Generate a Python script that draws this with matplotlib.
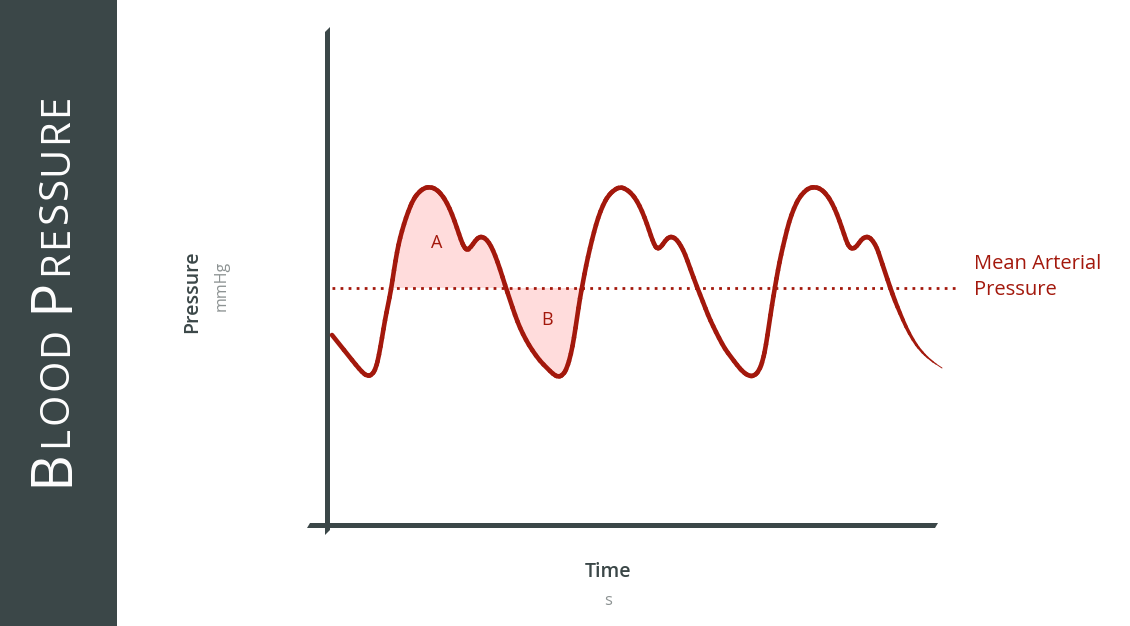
import numpy as np
import matplotlib
matplotlib.use("Agg")
import matplotlib.pyplot as plt
from matplotlib.patches import Polygon, Rectangle
from matplotlib.collections import LineCollection
from matplotlib.path import Path

# pressure trace (arbitrary chart units, no ticks shown)
time = [4, 12, 20, 28, 34, 39, 44, 48, 51, 54, 57, 60, 63, 66, 69, 72, 76, 80, 85, 90,
        96, 102, 108, 114, 119, 124, 129, 133, 136, 139, 143, 147, 151, 155, 159, 163, 167, 172, 177, 182,
        187, 192, 198, 204, 212, 219, 225, 230, 235, 239, 243, 246, 249, 252, 255, 258, 262, 266, 270, 275,
        280, 286, 292, 298, 304, 309, 314, 319, 323, 326, 329, 333, 337, 341, 345, 349, 353, 357, 362, 369,
        375, 380, 385, 391, 397, 403, 409, 415, 421, 426, 431, 435, 438, 441, 444, 447, 450, 453, 457, 461,
        466, 471, 476, 481, 487, 493, 499, 504, 509, 514, 518, 521, 525, 529, 533, 537, 541, 545, 549, 552,
        557, 562, 567, 572, 578, 585, 592, 602, 614]
pressure = [190, 180, 170, 160, 153, 149, 150, 157, 170, 187, 205, 220, 235, 255, 273, 287, 301, 313, 325, 332,
            337, 338, 336, 330, 322, 311, 297, 285, 278, 275, 278, 284, 288, 288, 285, 279, 270, 256, 240, 225,
            210, 197, 185, 175, 164, 157, 151, 148, 150, 157, 171, 187, 207, 227, 243, 259, 277, 293, 307, 320,
            329, 335, 338, 336, 331, 324, 314, 301, 289, 281, 276, 278, 284, 288, 288, 285, 279, 271, 257, 238,
            223, 210, 199, 187, 176, 168, 160, 153, 149, 149, 154, 165, 180, 200, 220, 238, 255, 270, 287, 303,
            317, 327, 333, 337, 338, 336, 330, 322, 311, 297, 285, 278, 276, 279, 285, 288, 288, 284, 277, 268,
            253, 238, 224, 212, 198, 185, 175, 165, 157]
mean_pressure = 237
shade_start, shade_end = 63, 253

dark = "#3B4748"
red = "#A3180C"
pink = "#FFDCDC"
grey = "#8C9292"

plt.rcParams["font.family"] = ["Open Sans", "DejaVu Sans"]

fig = plt.figure(figsize=(11.3, 6.26), dpi=100)

# dark side panel with the title in small caps
fig.patches.append(Rectangle((0, 0), 117 / 1130, 1, transform=fig.transFigure,
                             facecolor=dark, edgecolor="none", zorder=0))

renderer = fig.canvas.get_renderer()
ypix = 140
title = [("B", 41)] + [(c, 29) for c in "LOOD "] + [("P", 41)] + [(c, 29) for c in "RESSURE"]
for ch, size in title:
    t = fig.text(67 / 1130, ypix / 626, ch, rotation=90, rotation_mode="anchor",
                 ha="left", va="baseline", color="white", fontsize=size)
    ypix += t.get_window_extent(renderer).height + 2.3

ax = fig.add_axes([328 / 1130, 101 / 626, 610 / 1130, 495 / 626])
ax.set_xlim(0, 610)
ax.set_ylim(0, 495)
ax.axis("off")

# axis bars with slanted ends
ax.add_patch(Polygon([(-3, -10), (2, -5), (2, 498), (-3, 493)], closed=True,
                     facecolor=dark, edgecolor="none", clip_on=False, zorder=3))
ax.add_patch(Polygon([(-21, -3), (-18, 2), (610, 2), (607, -3)], closed=True,
                     facecolor=dark, edgecolor="none", clip_on=False, zorder=3))

t = np.array(time, dtype=float)
p = np.array(pressure, dtype=float)

# shaded areas A and B for the first beat
m = (t >= shade_start) & (t <= shade_end)
ax.fill_between(t[m], p[m], mean_pressure, facecolor=pink, edgecolor="none", zorder=1)

# mean arterial pressure
ax.plot([4, 632], [mean_pressure, mean_pressure], color=red, lw=2.0,
        linestyle=(0, (1, 1.9)), clip_on=False, zorder=2)

# trace: smooth the read points with quadratic bezier pieces, then thin out at the end
pts = np.column_stack([t, p])
verts = [pts[0]]
codes = [Path.MOVETO]
for i in range(1, len(pts) - 1):
    verts += [pts[i], (pts[i] + pts[i + 1]) / 2]
    codes += [Path.CURVE3, Path.CURVE3]
verts.append(pts[-1])
codes.append(Path.LINETO)
flat = Path(verts, codes).to_polygons(closed_only=False)[0]

segs = np.stack([flat[:-1], flat[1:]], axis=1)
xm = segs[:, :, 0].mean(axis=1)
widths = np.where(xm < 565, 3.3, 3.3 - (xm - 565) / (614 - 565) * 2.8)
ax.add_collection(LineCollection(segs, linewidths=widths, colors=red,
                                 capstyle="round", joinstyle="round", zorder=4, clip_on=False))

ax.text(109, 282, "A", color=red, fontsize=13, ha="center", va="center")
ax.text(219, 205, "B", color=red, fontsize=13, ha="center", va="center")
ax.text(646, 248, "Mean Arterial\nPressure", color=red, fontsize=14.5, ha="left",
        va="center", linespacing=1.4, clip_on=False)

# axis titles
fig.text(192 / 1130, (626 - 292) / 626, "Pressure", rotation=90, color=dark,
         fontsize=14, fontweight="semibold", ha="center", va="center")
fig.text(222 / 1130, (626 - 286) / 626, "mmHg", rotation=90, color=grey,
         fontsize=11.5, ha="center", va="center")
fig.text(608 / 1130, (626 - 572) / 626, "Time", color=dark, fontsize=14,
         fontweight="semibold", ha="center", va="center")
fig.text(608 / 1130, (626 - 601) / 626, "s", color=grey, fontsize=12,
         ha="center", va="center")

fig.savefig("out.png", dpi=100)
